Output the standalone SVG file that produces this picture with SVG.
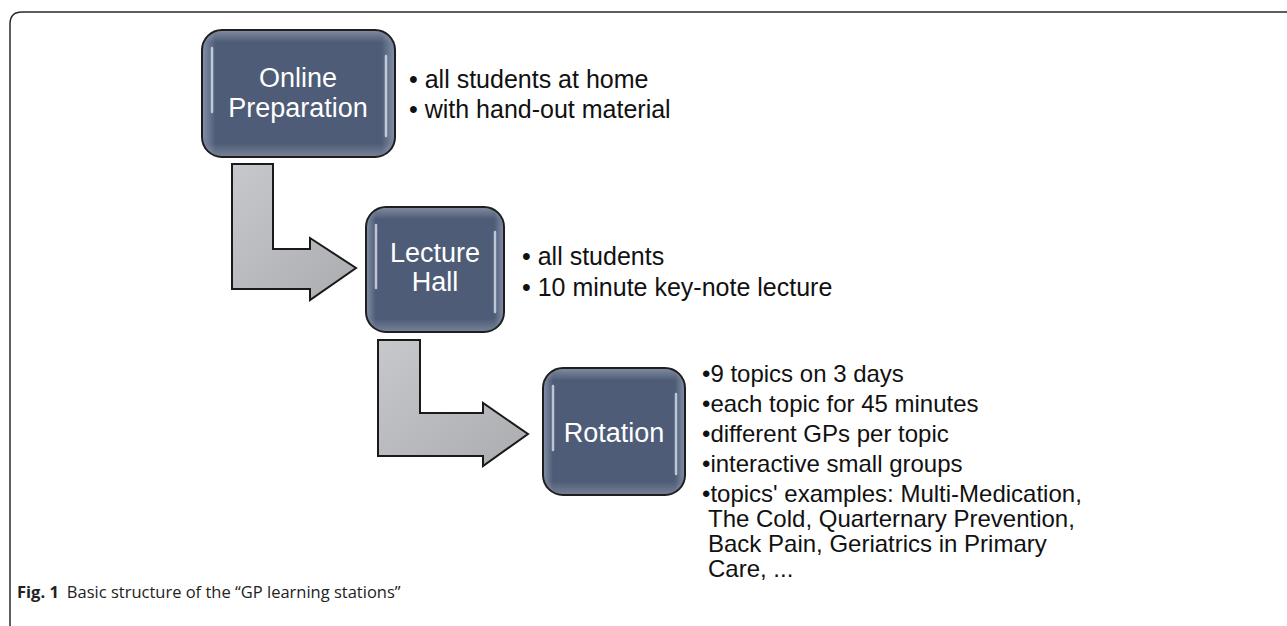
<svg xmlns="http://www.w3.org/2000/svg" width="1287" height="626" viewBox="0 0 1287 626">
<defs>
<linearGradient id="boxH" x1="0" y1="0" x2="1" y2="0">
<stop offset="0" stop-color="#8390a7"/><stop offset="0.07" stop-color="#4e5c77"/><stop offset="0.93" stop-color="#4e5c77"/><stop offset="1" stop-color="#8390a7"/>
</linearGradient>
<linearGradient id="boxV" x1="0" y1="0" x2="0" y2="1">
<stop offset="0" stop-color="#ffffff" stop-opacity="0.28"/><stop offset="0.09" stop-color="#ffffff" stop-opacity="0"/><stop offset="0.9" stop-color="#ffffff" stop-opacity="0"/><stop offset="1" stop-color="#ffffff" stop-opacity="0.22"/>
</linearGradient>
<linearGradient id="arrG" x1="0" y1="0" x2="1" y2="1">
<stop offset="0" stop-color="#c6c8cc"/><stop offset="0.5" stop-color="#b8babe"/><stop offset="1" stop-color="#aaacb0"/>
</linearGradient>
<style>
.box{stroke:#1e1e1e;stroke-width:2}
.gloss{fill:url(#boxV)}
.hl{stroke:#e2e8f2;stroke-width:2.5;stroke-linecap:round;opacity:0.75;fill:none}
.lbl{font-family:"Liberation Sans",Arial,sans-serif;font-size:27px;fill:#ffffff;text-anchor:middle}
.item{font-family:"Liberation Sans",Arial,sans-serif;font-size:25px;fill:#111111}
.item3{font-family:"Liberation Sans",Arial,sans-serif;font-size:24px;fill:#111111}
.arrow{fill:url(#arrG);stroke:#1a1a1a;stroke-width:2;stroke-linejoin:miter}
.cap{font-family:"Open Sans","Noto Sans",sans-serif;font-size:16.5px;fill:#222222}
</style>
</defs>
<rect width="1287" height="626" fill="#ffffff"/>
<path d="M10,626 V24 Q10,12 22,12 H1287" fill="none" stroke="#2a2a2a" stroke-width="1.5"/>

<g id="connectors">
<path class="arrow" d="M232,164 H273 V249 H310 V238 L356,268 L310,300 V289 H232 Z"/>
<path class="arrow" d="M378,340 H420 V413 H483 V403 L528,434 L483,466 V456 H378 Z"/>
</g>

<g id="node-online">
<rect class="box" x="202" y="30" width="193" height="127" rx="20" fill="url(#boxH)"/>
<rect class="gloss" x="203" y="31" width="191" height="125" rx="19"/>
<path class="hl" d="M212,48 V112"/>
<path class="hl" d="M386,56 V136"/>
<text class="lbl" x="298" y="87">Online</text>
<text class="lbl" x="298" y="117">Preparation</text>
</g>

<g id="node-lecture">
<rect class="box" x="366" y="207" width="138" height="125" rx="20" fill="url(#boxH)"/>
<rect class="gloss" x="367" y="208" width="136" height="123" rx="19"/>
<path class="hl" d="M376,225 V288"/>
<path class="hl" d="M495,232 V312"/>
<text class="lbl" x="435" y="262">Lecture</text>
<text class="lbl" x="435" y="291">Hall</text>
</g>

<g id="node-rotation">
<rect class="box" x="543" y="368" width="142" height="127" rx="20" fill="url(#boxH)"/>
<rect class="gloss" x="544" y="369" width="140" height="125" rx="19"/>
<path class="hl" d="M553,386 V450"/>
<path class="hl" d="M676,394 V474"/>
<text class="lbl" x="614" y="442">Rotation</text>
</g>

<g id="text-online">
<text class="item" x="409" y="88">• all students at home</text>
<text class="item" x="409" y="118">• with hand-out material</text>
</g>
<g id="text-lecture">
<text class="item" x="522" y="265">• all students</text>
<text class="item" x="522" y="296">• 10 minute key-note lecture</text>
</g>
<g id="text-rotation">
<text class="item3" x="702" y="382">•9 topics on 3 days</text>
<text class="item3" x="702" y="412">•each topic for 45 minutes</text>
<text class="item3" x="702" y="442">•different GPs per topic</text>
<text class="item3" x="702" y="472">•interactive small groups</text>
<text class="item3" x="702" y="502">•topics' examples: Multi-Medication,</text>
<text class="item3" x="708" y="527">The Cold, Quarternary Prevention,</text>
<text class="item3" x="708" y="552">Back Pain, Geriatrics in Primary</text>
<text class="item3" x="708" y="577">Care, ...</text>
</g>

<text class="cap" x="17" y="598"><tspan font-weight="bold">Fig. 1</tspan><tspan dx="8">Basic structure of the “GP learning stations”</tspan></text>
</svg>
